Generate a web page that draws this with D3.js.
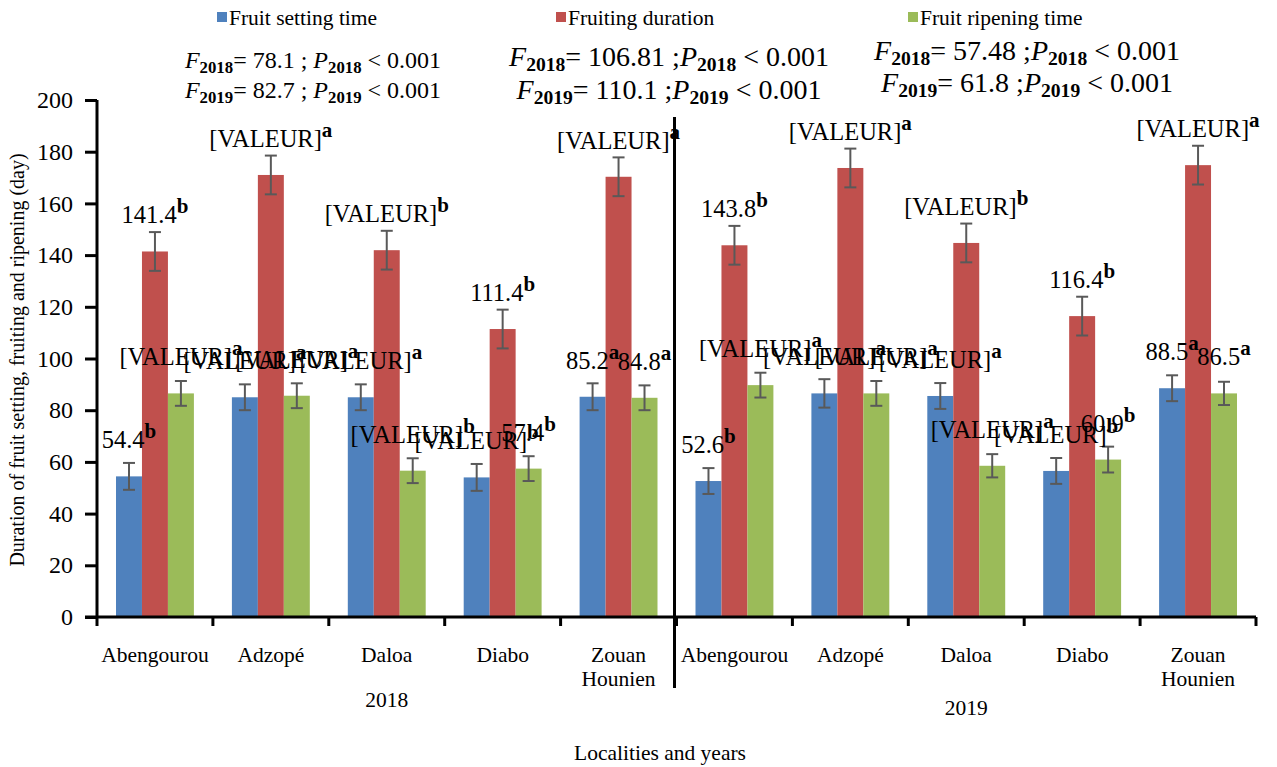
<!DOCTYPE html>
<html><head><meta charset="utf-8">
<script src="https://cdn.jsdelivr.net/npm/d3@7"></script>
<style>body{margin:0;background:#fff} text{font-family:"Liberation Serif","Times New Roman",serif;fill:#000}</style>
</head><body><svg id="c" width="1277" height="767"></svg>
<script>
const years = ["2018", "2019"];
const localities = ["Abengourou", "Adzopé", "Daloa", "Diabo", "Zouan Hounien"];
const seriesNames = ["Fruit setting time", "Fruiting duration", "Fruit ripening time"];
const seriesColors = ["#4F81BD", "#C0504D", "#9BBB59"];

const settingValues  = [54.4, 85.0, 85.0, 54.0, 85.2,   52.6, 86.5, 85.5, 56.5, 88.5];
const durationValues = [141.4, 171.0, 141.9, 111.4, 170.3,   143.8, 173.7, 144.7, 116.4, 174.8];
const ripeningValues = [86.5, 85.6, 56.6, 57.4, 84.8,   89.7, 86.5, 58.5, 60.9, 86.5];

const settingErrors  = [5.2, 5.0, 5.0, 5.2, 5.2,   5.0, 5.5, 5.0, 5.0, 5.0];
const durationErrors = [7.5, 7.5, 7.5, 7.5, 7.5,   7.5, 7.5, 7.5, 7.5, 7.5];
const ripeningErrors = [4.8, 4.8, 4.8, 4.8, 4.8,   4.8, 4.8, 4.5, 5.0, 4.5];

const settingLabels  = ["54.4", "[VALEUR]", "[VALEUR]", "[VALEUR]", "85.2",   "52.6", "[VALEUR]", "[VALEUR]", "[VALEUR]", "88.5"];
const settingLetters = ["b", "a", "a", "b", "a",   "b", "a", "a", "b", "a"];
const durationLabels  = ["141.4", "[VALEUR]", "[VALEUR]", "111.4", "[VALEUR]",   "143.8", "[VALEUR]", "[VALEUR]", "116.4", "[VALEUR]"];
const durationLetters = ["b", "a", "b", "b", "a",   "b", "a", "b", "b", "a"];
const ripeningLabels  = ["[VALEUR]", "[VALEUR]", "[VALEUR]", "57.4", "84.8",   "[VALEUR]", "[VALEUR]", "[VALEUR]", "60.9", "86.5"];
const ripeningLetters = ["a", "a", "b", "b", "a",   "a", "a", "a", "b", "a"];

const f2018 = ["78.1", "106.81", "57.48"];
const p2018 = ["0.001", "0.001", "0.001"];
const f2019 = ["82.7", "110.1", "61.8"];
const p2019 = ["0.001", "0.001", "0.001"];

const yTicks = [0, 20, 40, 60, 80, 100, 120, 140, 160, 180, 200];
const yTitle = "Duration of fruit setting, fruiting and ripening (day)";
const xTitle = "Localities and years";

// ---- build
const cats = [];
years.forEach(yr => localities.forEach(l => cats.push({year: yr, loc: l, key: yr + "|" + l})));
const series = [
  {name: seriesNames[0], color: seriesColors[0], values: settingValues, errors: settingErrors, labels: settingLabels, letters: settingLetters},
  {name: seriesNames[1], color: seriesColors[1], values: durationValues, errors: durationErrors, labels: durationLabels, letters: durationLetters},
  {name: seriesNames[2], color: seriesColors[2], values: ripeningValues, errors: ripeningErrors, labels: ripeningLabels, letters: ripeningLetters}
];

const svg = d3.select("#c");
const pL = 97, pR = 1256, pT = 100, pB = 617;
const x0 = d3.scaleBand().domain(cats.map(c => c.key)).range([pL, pR]).padding(0);
const x1 = d3.scaleBand().domain(seriesNames).range([19, x0.bandwidth() - 19]).padding(0);
const y = d3.scaleLinear().domain([0, 200]).range([pB, pT]);

// bars
const g = svg.append("g");
series.forEach(s => {
  cats.forEach((c, i) => {
    const bx = x0(c.key) + x1(s.name);
    const v = s.values[i];
    g.append("rect").attr("x", bx).attr("y", y(v)).attr("width", x1.bandwidth()).attr("height", y(0) - y(v)).attr("fill", s.color);
  });
});
// error bars
series.forEach(s => {
  cats.forEach((c, i) => {
    const cx = x0(c.key) + x1(s.name) + x1.bandwidth() / 2;
    const v = s.values[i], e = s.errors[i];
    const eg = g.append("g").attr("stroke", "#595959").attr("stroke-width", 2);
    eg.append("line").attr("x1", cx).attr("x2", cx).attr("y1", y(v - e)).attr("y2", y(v + e));
    eg.append("line").attr("x1", cx - 6).attr("x2", cx + 6).attr("y1", y(v - e)).attr("y2", y(v - e));
    eg.append("line").attr("x1", cx - 6).attr("x2", cx + 6).attr("y1", y(v + e)).attr("y2", y(v + e));
  });
});

// y axis
const ya = svg.append("g").attr("transform", `translate(${pL},0)`)
  .call(d3.axisLeft(y).tickValues(yTicks).tickSize(12).tickPadding(12).tickFormat(d3.format("d")));
ya.select(".domain").attr("stroke", "#000").attr("stroke-width", 3).attr("d", `M0,${pB}V${pT}`);
ya.selectAll(".tick line").attr("stroke", "#000").attr("stroke-width", 3);
ya.selectAll(".tick text").attr("font-size", 24).attr("fill", "#000");

// x axis line + boundary ticks
svg.append("line").attr("x1", pL - 12).attr("x2", pR).attr("y1", pB).attr("y2", pB).attr("stroke", "#000").attr("stroke-width", 3);
const bounds = cats.map(c => x0(c.key)).concat([pR]);
bounds.forEach(b => {
  svg.append("line").attr("x1", b).attr("x2", b).attr("y1", pB).attr("y2", pB + 9).attr("stroke", "#000").attr("stroke-width", 3);
});
// divider between years
const divX = x0(years[1] + "|" + localities[0]) - 2;
svg.append("line").attr("x1", divX).attr("x2", divX).attr("y1", 117).attr("y2", 688).attr("stroke", "#000").attr("stroke-width", 3);

// category labels
cats.forEach(c => {
  const cx = x0(c.key) + x0.bandwidth() / 2;
  const words = c.loc.split(" ");
  const t = svg.append("text").attr("x", cx).attr("y", 662).attr("text-anchor", "middle").attr("font-size", 21.5);
  words.forEach((w, k) => t.append("tspan").attr("x", cx).attr("dy", k === 0 ? 0 : 24).text(w));
});
years.forEach(yr => {
  const a = x0(yr + "|" + localities[0]), b = x0(yr + "|" + localities[localities.length - 1]) + x0.bandwidth();
  svg.append("text").attr("x", (a + b) / 2).attr("y", yr === years[0] ? 707 : 715).attr("text-anchor", "middle").attr("font-size", 21.5).text(yr);
});
svg.append("text").attr("x", 660).attr("y", 760).attr("text-anchor", "middle").attr("font-size", 21.5).text(xTitle);
svg.append("text").attr("transform", "translate(24,360) rotate(-90)").attr("text-anchor", "middle").attr("font-size", 20).text(yTitle);

// data labels
series.forEach(s => {
  cats.forEach((c, i) => {
    const cx = x0(c.key) + x1(s.name) + x1.bandwidth() / 2;
    const t = svg.append("text").attr("x", cx).attr("y", y(s.values[i]) - 28).attr("text-anchor", "middle").attr("font-size", 24.5);
    t.append("tspan").text(s.labels[i]);
    t.append("tspan").attr("dy", -10).attr("font-weight", "bold").attr("font-size", 21).text(s.letters[i]);
  });
});

// legend
const legX = [217, 556, 908];
series.forEach((s, k) => {
  svg.append("rect").attr("x", legX[k]).attr("y", 12).attr("width", 10).attr("height", 10).attr("fill", s.color);
  svg.append("text").attr("x", legX[k] + 12).attr("y", 25).attr("font-size", 21.5).text(s.name);
});

// statistics text
const statCx = [313, 669, 1027];
const statY1 = [68, 66, 60], statY2 = [98, 99, 92];
const statSize = [24, 28, 28];
const statSep = [" ; ", " ;", " ;"];
function stat(cx, yy, yr, fv, pv, fs, sep) {
  const t = svg.append("text").attr("x", cx).attr("y", yy).attr("text-anchor", "middle").attr("font-size", fs);
  t.append("tspan").attr("font-style", "italic").text("F");
  t.append("tspan").attr("font-weight", "bold").attr("font-size", fs * 0.7).attr("dy", 5).text(yr);
  t.append("tspan").attr("dy", -5).text("= " + fv + sep);
  t.append("tspan").attr("font-style", "italic").text("P");
  t.append("tspan").attr("font-weight", "bold").attr("font-size", fs * 0.7).attr("dy", 5).text(yr);
  t.append("tspan").attr("dy", -5).text(" < " + pv);
}
statCx.forEach((cx, k) => {
  stat(cx, statY1[k], years[0], f2018[k], p2018[k], statSize[k], statSep[k]);
  stat(cx, statY2[k], years[1], f2019[k], p2019[k], statSize[k], statSep[k]);
});
</script></body></html>
